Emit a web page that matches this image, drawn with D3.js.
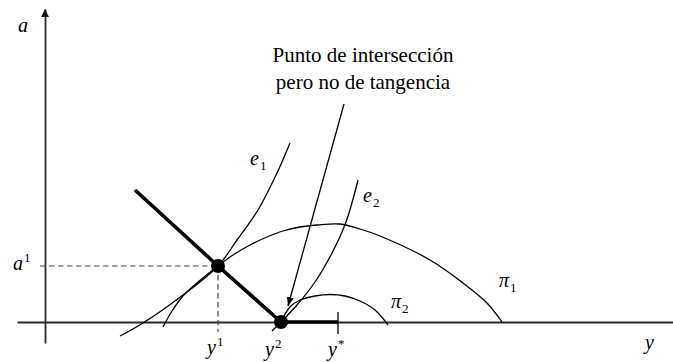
<!DOCTYPE html>
<html>
<head>
<meta charset="utf-8">
<script src="https://cdn.jsdelivr.net/npm/d3@7/dist/d3.min.js"></script>
<style>
  html, body { margin: 0; padding: 0; background: #fff; }
  svg { display: block; }
  .math { font-family: "Liberation Serif", "DejaVu Serif", serif; font-style: italic; fill: #000; }
  .note { font-family: "Liberation Serif", "DejaVu Serif", serif; fill: #000; }
</style>
</head>
<body>
<svg id="chart" width="673" height="362"></svg>
<script>
// Axis extents (output y on the horizontal axis, effort a on the vertical one)
const xExtent = [-2.8, 62.8];
const yExtent = [-2.1, 31.3];

// Key points
const pointA = [17.3, 5.6];   // (y1, a1)
const pointB = [23.6, 0];     // (y2, 0)
const yStar = 29.3;

// Kinked contract frontier (thick line)
const frontier = [[9.0, 13.2], pointA, pointB, [yStar, 0]];

// Indifference curves of the agent
const e1 = [[7.5, -1.4], [9.8, -0.1], [13.8, 2.7], [17.3, 5.6], [19.2, 8.2], [21.3, 11.2], [23.2, 14.9], [24.5, 17.9]];
const e2 = [[22.7, -0.9], [23.6, 0], [25.2, 1.7], [27.0, 4.0], [28.7, 6.9], [30.1, 10.0], [31.3, 14.2]];

// Iso-profit curves
const pi1 = [[11.8, -0.5], [12.7, 1.1], [13.8, 2.6], [15.3, 4.0], [17.3, 5.6], [18.8, 6.7], [20.5, 7.7],
             [22.2, 8.5], [23.8, 9.1], [25.5, 9.5], [27.2, 9.7], [29.5, 9.8], [31.5, 9.3], [33.5, 8.6],
             [38.5, 6.2], [41.8, 3.9], [44.2, 1.9], [45.7, 0]];
const pi2 = [[23.8, 0.4], [24.5, 1.5], [25.5, 2.2], [27.0, 2.6], [28.5, 2.75], [30.0, 2.6],
             [31.5, 2.1], [33.0, 1.2], [34.3, -0.3]];

// Pointer from the annotation to point B
const pointer = [[29.9, 21.8], [24.3, 1.6]];

const noteLines = ["Punto de intersección", "pero no de tangencia"];

const svg = d3.select("#chart");
const x = d3.scaleLinear().domain(xExtent).range([17, 673]);
const y = d3.scaleLinear().domain(yExtent).range([343, 9]);

const defs = svg.append("defs");
defs.append("marker")
  .attr("id", "head")
  .attr("viewBox", "0 0 10 10")
  .attr("refX", 10).attr("refY", 5)
  .attr("markerWidth", 9).attr("markerHeight", 9)
  .attr("markerUnits", "userSpaceOnUse")
  .attr("orient", "auto")
  .append("path").attr("d", "M0,1 L10,5 L0,9 Z").attr("fill", "#000");

// Axes: plain domain lines, no ticks
const xAxis = svg.append("g")
  .attr("transform", `translate(0,${y(0)})`)
  .call(d3.axisBottom(x).tickValues([]).tickSizeOuter(0));
const yAxis = svg.append("g")
  .attr("transform", `translate(${x(0)},0)`)
  .call(d3.axisLeft(y).tickValues([]).tickSizeOuter(0));
[xAxis, yAxis].forEach(g => g.select(".domain").attr("stroke", "#2a2a2a").attr("stroke-width", 1.8));

// arrowhead on the vertical axis
svg.append("path")
  .attr("d", `M${x(0)},${y(yExtent[1])} l-4,8 l8,0 Z`)
  .attr("fill", "#1a1a1a");

// dashed guides to a1 and y1
svg.append("line")
  .attr("x1", x(-0.5)).attr("y1", y(pointA[1]))
  .attr("x2", x(pointA[0])).attr("y2", y(pointA[1]))
  .attr("stroke", "#444").attr("stroke-width", 1.2).attr("stroke-dasharray", "5.5,3.5");
svg.append("line")
  .attr("x1", x(pointA[0])).attr("y1", y(pointA[1]))
  .attr("x2", x(pointA[0])).attr("y2", y(-1.0))
  .attr("stroke", "#444").attr("stroke-width", 1.2).attr("stroke-dasharray", "5.5,3.5");

const curve = d3.line().x(d => x(d[0])).y(d => y(d[1])).curve(d3.curveCatmullRom.alpha(0.5));

[e1, e2, pi1, pi2].forEach(pts => {
  svg.append("path").attr("d", curve(pts))
    .attr("fill", "none").attr("stroke", "#000").attr("stroke-width", 1.3);
});

// tick at y*
svg.append("line")
  .attr("x1", x(yStar)).attr("y1", y(1.0))
  .attr("x2", x(yStar)).attr("y2", y(-1.2))
  .attr("stroke", "#000").attr("stroke-width", 1.3);

// thick frontier
svg.append("path")
  .attr("d", d3.line().x(d => x(d[0])).y(d => y(d[1]))(frontier))
  .attr("fill", "none").attr("stroke", "#000").attr("stroke-width", 3.6)
  .attr("stroke-linejoin", "round");

// pointer arrow
svg.append("line")
  .attr("x1", x(pointer[0][0])).attr("y1", y(pointer[0][1]))
  .attr("x2", x(pointer[1][0])).attr("y2", y(pointer[1][1]))
  .attr("stroke", "#000").attr("stroke-width", 1.3)
  .attr("marker-end", "url(#head)");

// points
[pointA, pointB].forEach(p => {
  svg.append("circle").attr("cx", x(p[0])).attr("cy", y(p[1])).attr("r", 7).attr("fill", "#000");
});

// annotation
svg.append("text").attr("class", "note")
  .attr("x", 363).attr("y", 62).attr("text-anchor", "middle").attr("font-size", 21)
  .selectAll("tspan").data(noteLines).join("tspan")
  .attr("x", 363).attr("dy", (d, i) => i === 0 ? 0 : 27).text(d => d);

// math labels: [base, index, x, baseline, index kind]
const labels = [
  ["a", null, 18, 32, null],
  ["a", "1", 13, 270, "sup"],
  ["y", "1", 207, 354, "sup"],
  ["y", "2", 265, 356, "sup"],
  ["y", "*", 328, 356, "sup"],
  ["y", null, 645, 349, null],
  ["e", "1", 250, 165, "sub"],
  ["e", "2", 363, 202, "sub"],
  ["π", "1", 499, 287, "sub"],
  ["π", "2", 391, 308, "sub"]
];
labels.forEach(([base, idx, lx, ly, kind]) => {
  const t = svg.append("text").attr("class", "math")
    .attr("x", lx).attr("y", ly).attr("font-size", 20);
  t.append("tspan").text(base);
  if (idx) {
    t.append("tspan")
      .attr("font-style", "normal")
      .attr("font-size", 13)
      .attr("dx", 1)
      .attr("dy", kind === "sup" ? -8 : 5)
      .text(idx);
  }
});
</script>
</body>
</html>
